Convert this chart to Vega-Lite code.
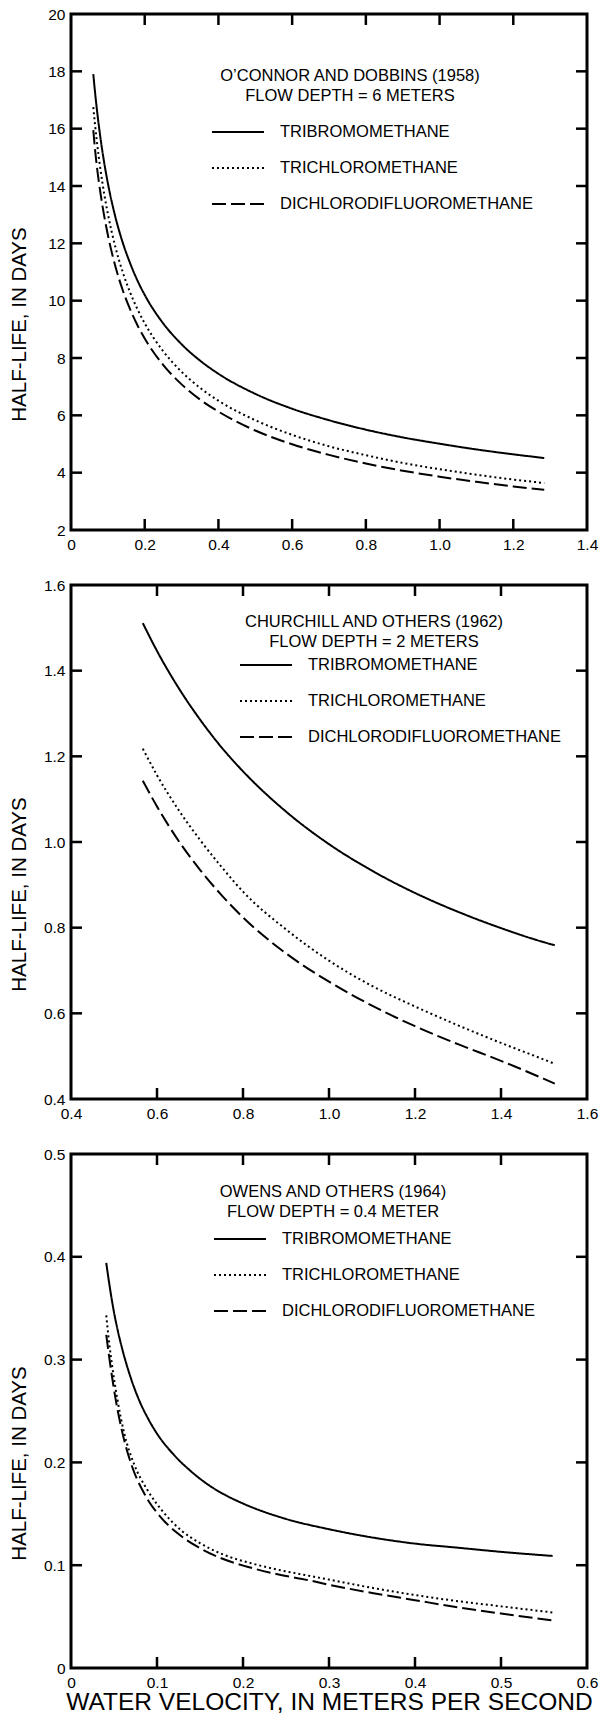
{
  "$schema": "https://vega.github.io/schema/vega-lite/v6.json",
  "padding": {"left": 7, "top": 5, "right": 0, "bottom": 5},
  "background": "white",
  "spacing": 55,
  "bounds": "flush",
  "resolve": {"scale": {"strokeDash": "independent"}, "legend": {"strokeDash": "independent"}},
  "config": {
    "view": {"stroke": "black", "strokeWidth": 3},
    "font": "Liberation Sans",
    "axis": {"domain": false, "ticks": false, "tickSize": 0, "grid": false, "labelColor": "black", "labelFontSize": 15.5, "labelFont": "Liberation Sans", "titleColor": "black", "titleFont": "Liberation Sans", "titleFontWeight": "normal", "titleFontSize": 20.5, "labelFlush": false, "labelOverlap": false, "labelPadding": 6},
    "tick": {"thickness": 2.5, "color": "black", "opacity": 1},
    "legend": {"orient": "none", "padding": 0, "symbolType": "stroke", "symbolSize": 2704, "symbolStrokeWidth": 2, "symbolStrokeColor": "black", "labelFont": "Liberation Sans", "labelFontSize": 16.5, "labelColor": "black", "labelOffset": 15, "rowPadding": 16, "clipHeight": 20, "labelLimit": 400},
    "title": {"font": "Liberation Sans", "fontSize": 16.5, "fontWeight": "normal", "color": "black", "subtitleFont": "Liberation Sans", "subtitleFontSize": 16.5, "subtitleColor": "black", "subtitlePadding": 3, "anchor": "middle", "frame": "group"}
  },
  "datasets": {
    "xt1": [{"v": 0.2}, {"v": 0.4}, {"v": 0.6}, {"v": 0.8}, {"v": 1.0}, {"v": 1.2}],
    "yt1": [{"v": 4}, {"v": 6}, {"v": 8}, {"v": 10}, {"v": 12}, {"v": 14}, {"v": 16}, {"v": 18}],
    "xt2": [{"v": 0.6}, {"v": 0.8}, {"v": 1.0}, {"v": 1.2}, {"v": 1.4}],
    "yt2": [{"v": 0.6}, {"v": 0.8}, {"v": 1.0}, {"v": 1.2}, {"v": 1.4}],
    "xt3": [{"v": 0.1}, {"v": 0.2}, {"v": 0.3}, {"v": 0.4}, {"v": 0.5}],
    "yt3": [{"v": 0.1}, {"v": 0.2}, {"v": 0.3}, {"v": 0.4}],
    "p1": [
      {"velocity": 0.0605, "halfLife": 17.9, "compound": "TRIBROMOMETHANE"},
      {"velocity": 0.065, "halfLife": 17.3, "compound": "TRIBROMOMETHANE"},
      {"velocity": 0.07, "halfLife": 16.7, "compound": "TRIBROMOMETHANE"},
      {"velocity": 0.08, "halfLife": 15.67, "compound": "TRIBROMOMETHANE"},
      {"velocity": 0.09, "halfLife": 14.82, "compound": "TRIBROMOMETHANE"},
      {"velocity": 0.1, "halfLife": 14.1, "compound": "TRIBROMOMETHANE"},
      {"velocity": 0.12, "halfLife": 12.94, "compound": "TRIBROMOMETHANE"},
      {"velocity": 0.14, "halfLife": 12.04, "compound": "TRIBROMOMETHANE"},
      {"velocity": 0.16, "halfLife": 11.32, "compound": "TRIBROMOMETHANE"},
      {"velocity": 0.18, "halfLife": 10.71, "compound": "TRIBROMOMETHANE"},
      {"velocity": 0.2, "halfLife": 10.2, "compound": "TRIBROMOMETHANE"},
      {"velocity": 0.25, "halfLife": 9.21, "compound": "TRIBROMOMETHANE"},
      {"velocity": 0.3, "halfLife": 8.48, "compound": "TRIBROMOMETHANE"},
      {"velocity": 0.35, "halfLife": 7.91, "compound": "TRIBROMOMETHANE"},
      {"velocity": 0.4, "halfLife": 7.45, "compound": "TRIBROMOMETHANE"},
      {"velocity": 0.5, "halfLife": 6.75, "compound": "TRIBROMOMETHANE"},
      {"velocity": 0.6, "halfLife": 6.23, "compound": "TRIBROMOMETHANE"},
      {"velocity": 0.7, "halfLife": 5.83, "compound": "TRIBROMOMETHANE"},
      {"velocity": 0.8, "halfLife": 5.5, "compound": "TRIBROMOMETHANE"},
      {"velocity": 0.9, "halfLife": 5.23, "compound": "TRIBROMOMETHANE"},
      {"velocity": 1.0, "halfLife": 5.01, "compound": "TRIBROMOMETHANE"},
      {"velocity": 1.1, "halfLife": 4.81, "compound": "TRIBROMOMETHANE"},
      {"velocity": 1.2, "halfLife": 4.64, "compound": "TRIBROMOMETHANE"},
      {"velocity": 1.284, "halfLife": 4.51, "compound": "TRIBROMOMETHANE"},
      {"velocity": 0.0605, "halfLife": 16.75, "compound": "TRICHLOROMETHANE"},
      {"velocity": 0.065, "halfLife": 16.16, "compound": "TRICHLOROMETHANE"},
      {"velocity": 0.07, "halfLife": 15.57, "compound": "TRICHLOROMETHANE"},
      {"velocity": 0.08, "halfLife": 14.57, "compound": "TRICHLOROMETHANE"},
      {"velocity": 0.09, "halfLife": 13.73, "compound": "TRICHLOROMETHANE"},
      {"velocity": 0.1, "halfLife": 13.03, "compound": "TRICHLOROMETHANE"},
      {"velocity": 0.12, "halfLife": 11.89, "compound": "TRICHLOROMETHANE"},
      {"velocity": 0.14, "halfLife": 11.01, "compound": "TRICHLOROMETHANE"},
      {"velocity": 0.16, "halfLife": 10.3, "compound": "TRICHLOROMETHANE"},
      {"velocity": 0.18, "halfLife": 9.71, "compound": "TRICHLOROMETHANE"},
      {"velocity": 0.2, "halfLife": 9.21, "compound": "TRICHLOROMETHANE"},
      {"velocity": 0.25, "halfLife": 8.24, "compound": "TRICHLOROMETHANE"},
      {"velocity": 0.3, "halfLife": 7.52, "compound": "TRICHLOROMETHANE"},
      {"velocity": 0.35, "halfLife": 6.96, "compound": "TRICHLOROMETHANE"},
      {"velocity": 0.4, "halfLife": 6.51, "compound": "TRICHLOROMETHANE"},
      {"velocity": 0.5, "halfLife": 5.83, "compound": "TRICHLOROMETHANE"},
      {"velocity": 0.6, "halfLife": 5.32, "compound": "TRICHLOROMETHANE"},
      {"velocity": 0.7, "halfLife": 4.92, "compound": "TRICHLOROMETHANE"},
      {"velocity": 0.8, "halfLife": 4.61, "compound": "TRICHLOROMETHANE"},
      {"velocity": 0.9, "halfLife": 4.34, "compound": "TRICHLOROMETHANE"},
      {"velocity": 1.0, "halfLife": 4.12, "compound": "TRICHLOROMETHANE"},
      {"velocity": 1.1, "halfLife": 3.93, "compound": "TRICHLOROMETHANE"},
      {"velocity": 1.2, "halfLife": 3.76, "compound": "TRICHLOROMETHANE"},
      {"velocity": 1.284, "halfLife": 3.64, "compound": "TRICHLOROMETHANE"},
      {"velocity": 0.0605, "halfLife": 15.95, "compound": "DICHLORODIFLUOROMETHANE"},
      {"velocity": 0.065, "halfLife": 15.3, "compound": "DICHLORODIFLUOROMETHANE"},
      {"velocity": 0.07, "halfLife": 14.7, "compound": "DICHLORODIFLUOROMETHANE"},
      {"velocity": 0.08, "halfLife": 13.75, "compound": "DICHLORODIFLUOROMETHANE"},
      {"velocity": 0.09, "halfLife": 12.96, "compound": "DICHLORODIFLUOROMETHANE"},
      {"velocity": 0.1, "halfLife": 12.29, "compound": "DICHLORODIFLUOROMETHANE"},
      {"velocity": 0.12, "halfLife": 11.22, "compound": "DICHLORODIFLUOROMETHANE"},
      {"velocity": 0.14, "halfLife": 10.38, "compound": "DICHLORODIFLUOROMETHANE"},
      {"velocity": 0.16, "halfLife": 9.71, "compound": "DICHLORODIFLUOROMETHANE"},
      {"velocity": 0.18, "halfLife": 9.15, "compound": "DICHLORODIFLUOROMETHANE"},
      {"velocity": 0.2, "halfLife": 8.68, "compound": "DICHLORODIFLUOROMETHANE"},
      {"velocity": 0.25, "halfLife": 7.76, "compound": "DICHLORODIFLUOROMETHANE"},
      {"velocity": 0.3, "halfLife": 7.08, "compound": "DICHLORODIFLUOROMETHANE"},
      {"velocity": 0.35, "halfLife": 6.55, "compound": "DICHLORODIFLUOROMETHANE"},
      {"velocity": 0.4, "halfLife": 6.13, "compound": "DICHLORODIFLUOROMETHANE"},
      {"velocity": 0.5, "halfLife": 5.47, "compound": "DICHLORODIFLUOROMETHANE"},
      {"velocity": 0.6, "halfLife": 4.99, "compound": "DICHLORODIFLUOROMETHANE"},
      {"velocity": 0.7, "halfLife": 4.62, "compound": "DICHLORODIFLUOROMETHANE"},
      {"velocity": 0.8, "halfLife": 4.32, "compound": "DICHLORODIFLUOROMETHANE"},
      {"velocity": 0.9, "halfLife": 4.07, "compound": "DICHLORODIFLUOROMETHANE"},
      {"velocity": 1.0, "halfLife": 3.86, "compound": "DICHLORODIFLUOROMETHANE"},
      {"velocity": 1.1, "halfLife": 3.68, "compound": "DICHLORODIFLUOROMETHANE"},
      {"velocity": 1.2, "halfLife": 3.52, "compound": "DICHLORODIFLUOROMETHANE"},
      {"velocity": 1.284, "halfLife": 3.4, "compound": "DICHLORODIFLUOROMETHANE"}
    ],
    "p2": [
      {"velocity": 0.567, "halfLife": 1.511, "compound": "TRIBROMOMETHANE"},
      {"velocity": 0.6, "halfLife": 1.446, "compound": "TRIBROMOMETHANE"},
      {"velocity": 0.65, "halfLife": 1.36, "compound": "TRIBROMOMETHANE"},
      {"velocity": 0.7, "halfLife": 1.286, "compound": "TRIBROMOMETHANE"},
      {"velocity": 0.75, "halfLife": 1.221, "compound": "TRIBROMOMETHANE"},
      {"velocity": 0.8, "halfLife": 1.165, "compound": "TRIBROMOMETHANE"},
      {"velocity": 0.9, "halfLife": 1.071, "compound": "TRIBROMOMETHANE"},
      {"velocity": 1.0, "halfLife": 0.995, "compound": "TRIBROMOMETHANE"},
      {"velocity": 1.1, "halfLife": 0.933, "compound": "TRIBROMOMETHANE"},
      {"velocity": 1.2, "halfLife": 0.881, "compound": "TRIBROMOMETHANE"},
      {"velocity": 1.3, "halfLife": 0.837, "compound": "TRIBROMOMETHANE"},
      {"velocity": 1.4, "halfLife": 0.799, "compound": "TRIBROMOMETHANE"},
      {"velocity": 1.5, "halfLife": 0.766, "compound": "TRIBROMOMETHANE"},
      {"velocity": 1.525, "halfLife": 0.759, "compound": "TRIBROMOMETHANE"},
      {"velocity": 0.567, "halfLife": 1.218, "compound": "TRICHLOROMETHANE"},
      {"velocity": 0.6, "halfLife": 1.156, "compound": "TRICHLOROMETHANE"},
      {"velocity": 0.65, "halfLife": 1.075, "compound": "TRICHLOROMETHANE"},
      {"velocity": 0.7, "halfLife": 1.005, "compound": "TRICHLOROMETHANE"},
      {"velocity": 0.75, "halfLife": 0.942, "compound": "TRICHLOROMETHANE"},
      {"velocity": 0.8, "halfLife": 0.884, "compound": "TRICHLOROMETHANE"},
      {"velocity": 0.9, "halfLife": 0.796, "compound": "TRICHLOROMETHANE"},
      {"velocity": 1.0, "halfLife": 0.723, "compound": "TRICHLOROMETHANE"},
      {"velocity": 1.1, "halfLife": 0.664, "compound": "TRICHLOROMETHANE"},
      {"velocity": 1.2, "halfLife": 0.616, "compound": "TRICHLOROMETHANE"},
      {"velocity": 1.3, "halfLife": 0.572, "compound": "TRICHLOROMETHANE"},
      {"velocity": 1.4, "halfLife": 0.531, "compound": "TRICHLOROMETHANE"},
      {"velocity": 1.5, "halfLife": 0.492, "compound": "TRICHLOROMETHANE"},
      {"velocity": 1.525, "halfLife": 0.482, "compound": "TRICHLOROMETHANE"},
      {"velocity": 0.567, "halfLife": 1.143, "compound": "DICHLORODIFLUOROMETHANE"},
      {"velocity": 0.6, "halfLife": 1.083, "compound": "DICHLORODIFLUOROMETHANE"},
      {"velocity": 0.65, "halfLife": 1.003, "compound": "DICHLORODIFLUOROMETHANE"},
      {"velocity": 0.7, "halfLife": 0.935, "compound": "DICHLORODIFLUOROMETHANE"},
      {"velocity": 0.75, "halfLife": 0.876, "compound": "DICHLORODIFLUOROMETHANE"},
      {"velocity": 0.8, "halfLife": 0.824, "compound": "DICHLORODIFLUOROMETHANE"},
      {"velocity": 0.9, "halfLife": 0.74, "compound": "DICHLORODIFLUOROMETHANE"},
      {"velocity": 1.0, "halfLife": 0.674, "compound": "DICHLORODIFLUOROMETHANE"},
      {"velocity": 1.1, "halfLife": 0.618, "compound": "DICHLORODIFLUOROMETHANE"},
      {"velocity": 1.2, "halfLife": 0.57, "compound": "DICHLORODIFLUOROMETHANE"},
      {"velocity": 1.3, "halfLife": 0.528, "compound": "DICHLORODIFLUOROMETHANE"},
      {"velocity": 1.4, "halfLife": 0.489, "compound": "DICHLORODIFLUOROMETHANE"},
      {"velocity": 1.5, "halfLife": 0.447, "compound": "DICHLORODIFLUOROMETHANE"},
      {"velocity": 1.525, "halfLife": 0.436, "compound": "DICHLORODIFLUOROMETHANE"}
    ],
    "p3": [
      {"velocity": 0.041, "halfLife": 0.394, "compound": "TRIBROMOMETHANE"},
      {"velocity": 0.045, "halfLife": 0.371, "compound": "TRIBROMOMETHANE"},
      {"velocity": 0.05, "halfLife": 0.346, "compound": "TRIBROMOMETHANE"},
      {"velocity": 0.055, "halfLife": 0.326, "compound": "TRIBROMOMETHANE"},
      {"velocity": 0.06, "halfLife": 0.309, "compound": "TRIBROMOMETHANE"},
      {"velocity": 0.07, "halfLife": 0.281, "compound": "TRIBROMOMETHANE"},
      {"velocity": 0.08, "halfLife": 0.259, "compound": "TRIBROMOMETHANE"},
      {"velocity": 0.09, "halfLife": 0.242, "compound": "TRIBROMOMETHANE"},
      {"velocity": 0.1, "halfLife": 0.228, "compound": "TRIBROMOMETHANE"},
      {"velocity": 0.12, "halfLife": 0.207, "compound": "TRIBROMOMETHANE"},
      {"velocity": 0.14, "halfLife": 0.191, "compound": "TRIBROMOMETHANE"},
      {"velocity": 0.16, "halfLife": 0.178, "compound": "TRIBROMOMETHANE"},
      {"velocity": 0.18, "halfLife": 0.168, "compound": "TRIBROMOMETHANE"},
      {"velocity": 0.2, "halfLife": 0.16, "compound": "TRIBROMOMETHANE"},
      {"velocity": 0.25, "halfLife": 0.145, "compound": "TRIBROMOMETHANE"},
      {"velocity": 0.3, "halfLife": 0.135, "compound": "TRIBROMOMETHANE"},
      {"velocity": 0.35, "halfLife": 0.127, "compound": "TRIBROMOMETHANE"},
      {"velocity": 0.4, "halfLife": 0.121, "compound": "TRIBROMOMETHANE"},
      {"velocity": 0.45, "halfLife": 0.117, "compound": "TRIBROMOMETHANE"},
      {"velocity": 0.5, "halfLife": 0.113, "compound": "TRIBROMOMETHANE"},
      {"velocity": 0.56, "halfLife": 0.109, "compound": "TRIBROMOMETHANE"},
      {"velocity": 0.041, "halfLife": 0.343, "compound": "TRICHLOROMETHANE"},
      {"velocity": 0.044, "halfLife": 0.319, "compound": "TRICHLOROMETHANE"},
      {"velocity": 0.048, "halfLife": 0.293, "compound": "TRICHLOROMETHANE"},
      {"velocity": 0.054, "halfLife": 0.261, "compound": "TRICHLOROMETHANE"},
      {"velocity": 0.062, "halfLife": 0.228, "compound": "TRICHLOROMETHANE"},
      {"velocity": 0.073, "halfLife": 0.199, "compound": "TRICHLOROMETHANE"},
      {"velocity": 0.089, "halfLife": 0.173, "compound": "TRICHLOROMETHANE"},
      {"velocity": 0.108, "halfLife": 0.151, "compound": "TRICHLOROMETHANE"},
      {"velocity": 0.128, "halfLife": 0.134, "compound": "TRICHLOROMETHANE"},
      {"velocity": 0.151, "halfLife": 0.121, "compound": "TRICHLOROMETHANE"},
      {"velocity": 0.178, "halfLife": 0.11, "compound": "TRICHLOROMETHANE"},
      {"velocity": 0.209, "halfLife": 0.102, "compound": "TRICHLOROMETHANE"},
      {"velocity": 0.244, "halfLife": 0.095, "compound": "TRICHLOROMETHANE"},
      {"velocity": 0.275, "halfLife": 0.09, "compound": "TRICHLOROMETHANE"},
      {"velocity": 0.3, "halfLife": 0.086, "compound": "TRICHLOROMETHANE"},
      {"velocity": 0.35, "halfLife": 0.078, "compound": "TRICHLOROMETHANE"},
      {"velocity": 0.4, "halfLife": 0.071, "compound": "TRICHLOROMETHANE"},
      {"velocity": 0.45, "halfLife": 0.065, "compound": "TRICHLOROMETHANE"},
      {"velocity": 0.5, "halfLife": 0.06, "compound": "TRICHLOROMETHANE"},
      {"velocity": 0.56, "halfLife": 0.054, "compound": "TRICHLOROMETHANE"},
      {"velocity": 0.041, "halfLife": 0.324, "compound": "DICHLORODIFLUOROMETHANE"},
      {"velocity": 0.046, "halfLife": 0.293, "compound": "DICHLORODIFLUOROMETHANE"},
      {"velocity": 0.052, "halfLife": 0.261, "compound": "DICHLORODIFLUOROMETHANE"},
      {"velocity": 0.06, "halfLife": 0.228, "compound": "DICHLORODIFLUOROMETHANE"},
      {"velocity": 0.071, "halfLife": 0.196, "compound": "DICHLORODIFLUOROMETHANE"},
      {"velocity": 0.085, "halfLife": 0.17, "compound": "DICHLORODIFLUOROMETHANE"},
      {"velocity": 0.104, "halfLife": 0.147, "compound": "DICHLORODIFLUOROMETHANE"},
      {"velocity": 0.124, "halfLife": 0.131, "compound": "DICHLORODIFLUOROMETHANE"},
      {"velocity": 0.147, "halfLife": 0.118, "compound": "DICHLORODIFLUOROMETHANE"},
      {"velocity": 0.174, "halfLife": 0.107, "compound": "DICHLORODIFLUOROMETHANE"},
      {"velocity": 0.205, "halfLife": 0.0985, "compound": "DICHLORODIFLUOROMETHANE"},
      {"velocity": 0.244, "halfLife": 0.0905, "compound": "DICHLORODIFLUOROMETHANE"},
      {"velocity": 0.275, "halfLife": 0.0856, "compound": "DICHLORODIFLUOROMETHANE"},
      {"velocity": 0.3, "halfLife": 0.081, "compound": "DICHLORODIFLUOROMETHANE"},
      {"velocity": 0.35, "halfLife": 0.073, "compound": "DICHLORODIFLUOROMETHANE"},
      {"velocity": 0.4, "halfLife": 0.066, "compound": "DICHLORODIFLUOROMETHANE"},
      {"velocity": 0.45, "halfLife": 0.059, "compound": "DICHLORODIFLUOROMETHANE"},
      {"velocity": 0.5, "halfLife": 0.053, "compound": "DICHLORODIFLUOROMETHANE"},
      {"velocity": 0.56, "halfLife": 0.0463, "compound": "DICHLORODIFLUOROMETHANE"}
    ]
  },
  "vconcat": [
    {
      "width": 516, "height": 516,
      "title": {"text": "O\u2019CONNOR AND DOBBINS (1958)", "subtitle": "FLOW DEPTH = 6 METERS", "dx": 21, "offset": -97},
      "resolve": {"axis": {"x": "independent", "y": "independent"}},
      "layer": [
        {
          "data": {"name": "p1"},
          "mark": {"type": "line", "stroke": "black", "strokeWidth": 2, "interpolate": "monotone"},
          "encoding": {
            "x": {"field": "velocity", "type": "quantitative", "scale": {"domain": [0, 1.4], "nice": false, "zero": false},
                  "axis": {"orient": "bottom", "title": null, "labelPadding": 7, "values": [0, 0.2, 0.4, 0.6, 0.8, 1.0, 1.2, 1.4], "labelExpr": "datum.value == 0 ? '0' : format(datum.value, '.1f')"}},
            "y": {"field": "halfLife", "type": "quantitative", "scale": {"domain": [2, 20], "nice": false, "zero": false},
                  "axis": {"orient": "left", "title": "HALF-LIFE, IN DAYS", "values": [2, 4, 6, 8, 10, 12, 14, 16, 18, 20], "format": "d", "titleX": -52, "titleY": 310, "titleBaseline": "middle"}},
            "strokeDash": {"field": "compound", "type": "nominal",
                  "scale": {"domain": ["TRIBROMOMETHANE", "TRICHLOROMETHANE", "DICHLORODIFLUOROMETHANE"], "range": [[1, 0], [2, 3], [14, 5]]},
                  "legend": {"title": null, "legendX": 140, "legendY": 108}}
          }
        },
        {"data": {"name": "xt1"}, "mark": {"type": "tick", "orient": "vertical", "size": 11, "yOffset": -5.5},
         "encoding": {"x": {"field": "v", "type": "quantitative", "axis": null}, "y": {"datum": 2, "type": "quantitative", "axis": null}}},
        {"data": {"name": "xt1"}, "mark": {"type": "tick", "orient": "vertical", "size": 11, "yOffset": 5.5},
         "encoding": {"x": {"field": "v", "type": "quantitative", "axis": null}, "y": {"datum": 20, "type": "quantitative", "axis": null}}},
        {"data": {"name": "yt1"}, "mark": {"type": "tick", "orient": "horizontal", "size": 11, "xOffset": 5.5},
         "encoding": {"y": {"field": "v", "type": "quantitative", "axis": null}, "x": {"datum": 0, "type": "quantitative", "axis": null}}},
        {"data": {"name": "yt1"}, "mark": {"type": "tick", "orient": "horizontal", "size": 11, "xOffset": -5.5},
         "encoding": {"y": {"field": "v", "type": "quantitative", "axis": null}, "x": {"datum": 1.4, "type": "quantitative", "axis": null}}}
      ]
    },
    {
      "width": 516, "height": 514,
      "title": {"text": "CHURCHILL AND OTHERS (1962)", "subtitle": "FLOW DEPTH = 2 METERS", "dx": 45, "offset": -72},
      "resolve": {"axis": {"x": "independent", "y": "independent"}},
      "layer": [
        {
          "data": {"name": "p2"},
          "mark": {"type": "line", "stroke": "black", "strokeWidth": 2, "interpolate": "monotone"},
          "encoding": {
            "x": {"field": "velocity", "type": "quantitative", "scale": {"domain": [0.4, 1.6], "nice": false, "zero": false},
                  "axis": {"orient": "bottom", "title": null, "labelPadding": 7, "values": [0.4, 0.6, 0.8, 1.0, 1.2, 1.4, 1.6], "format": ".1f"}},
            "y": {"field": "halfLife", "type": "quantitative", "scale": {"domain": [0.4, 1.6], "nice": false, "zero": false},
                  "axis": {"orient": "left", "title": "HALF-LIFE, IN DAYS", "values": [0.4, 0.6, 0.8, 1.0, 1.2, 1.4, 1.6], "format": ".1f", "titleX": -52, "titleY": 309, "titleBaseline": "middle"}},
            "strokeDash": {"field": "compound", "type": "nominal",
                  "scale": {"domain": ["TRIBROMOMETHANE", "TRICHLOROMETHANE", "DICHLORODIFLUOROMETHANE"], "range": [[1, 0], [2, 3], [14, 5]]},
                  "legend": {"title": null, "legendX": 168, "legendY": 70}}
          }
        },
        {"data": {"name": "xt2"}, "mark": {"type": "tick", "orient": "vertical", "size": 11, "yOffset": -5.5},
         "encoding": {"x": {"field": "v", "type": "quantitative", "axis": null}, "y": {"datum": 0.4, "type": "quantitative", "axis": null}}},
        {"data": {"name": "xt2"}, "mark": {"type": "tick", "orient": "vertical", "size": 11, "yOffset": 5.5},
         "encoding": {"x": {"field": "v", "type": "quantitative", "axis": null}, "y": {"datum": 1.6, "type": "quantitative", "axis": null}}},
        {"data": {"name": "yt2"}, "mark": {"type": "tick", "orient": "horizontal", "size": 11, "xOffset": 5.5},
         "encoding": {"y": {"field": "v", "type": "quantitative", "axis": null}, "x": {"datum": 0.4, "type": "quantitative", "axis": null}}},
        {"data": {"name": "yt2"}, "mark": {"type": "tick", "orient": "horizontal", "size": 11, "xOffset": -5.5},
         "encoding": {"y": {"field": "v", "type": "quantitative", "axis": null}, "x": {"datum": 1.6, "type": "quantitative", "axis": null}}}
      ]
    },
    {
      "width": 516, "height": 514,
      "title": {"text": "OWENS AND OTHERS (1964)", "subtitle": "FLOW DEPTH = 0.4 METER", "dx": 4, "offset": -73},
      "resolve": {"axis": {"x": "independent", "y": "independent"}},
      "layer": [
        {
          "data": {"name": "p3"},
          "mark": {"type": "line", "stroke": "black", "strokeWidth": 2, "interpolate": "monotone"},
          "encoding": {
            "x": {"field": "velocity", "type": "quantitative", "scale": {"domain": [0, 0.6], "nice": false, "zero": false},
                  "axis": {"orient": "bottom", "title": "WATER VELOCITY, IN METERS PER SECOND", "titleFontSize": 24.5, "titlePadding": 0, "labelPadding": 7, "values": [0, 0.1, 0.2, 0.3, 0.4, 0.5, 0.6], "labelExpr": "datum.value == 0 ? '0' : format(datum.value, '.1f')"}},
            "y": {"field": "halfLife", "type": "quantitative", "scale": {"domain": [0, 0.5], "nice": false, "zero": false},
                  "axis": {"orient": "left", "title": "HALF-LIFE, IN DAYS", "values": [0, 0.1, 0.2, 0.3, 0.4, 0.5], "labelExpr": "datum.value == 0 ? '0' : format(datum.value, '.1f')", "titleX": -52, "titleY": 309, "titleBaseline": "middle"}},
            "strokeDash": {"field": "compound", "type": "nominal",
                  "scale": {"domain": ["TRIBROMOMETHANE", "TRICHLOROMETHANE", "DICHLORODIFLUOROMETHANE"], "range": [[1, 0], [2, 3], [14, 5]]},
                  "legend": {"title": null, "legendX": 142, "legendY": 75}}
          }
        },
        {"data": {"name": "xt3"}, "mark": {"type": "tick", "orient": "vertical", "size": 11, "yOffset": -5.5},
         "encoding": {"x": {"field": "v", "type": "quantitative", "axis": null}, "y": {"datum": 0, "type": "quantitative", "axis": null}}},
        {"data": {"name": "xt3"}, "mark": {"type": "tick", "orient": "vertical", "size": 11, "yOffset": 5.5},
         "encoding": {"x": {"field": "v", "type": "quantitative", "axis": null}, "y": {"datum": 0.5, "type": "quantitative", "axis": null}}},
        {"data": {"name": "yt3"}, "mark": {"type": "tick", "orient": "horizontal", "size": 11, "xOffset": 5.5},
         "encoding": {"y": {"field": "v", "type": "quantitative", "axis": null}, "x": {"datum": 0, "type": "quantitative", "axis": null}}},
        {"data": {"name": "yt3"}, "mark": {"type": "tick", "orient": "horizontal", "size": 11, "xOffset": -5.5},
         "encoding": {"y": {"field": "v", "type": "quantitative", "axis": null}, "x": {"datum": 0.6, "type": "quantitative", "axis": null}}}
      ]
    }
  ]
}
